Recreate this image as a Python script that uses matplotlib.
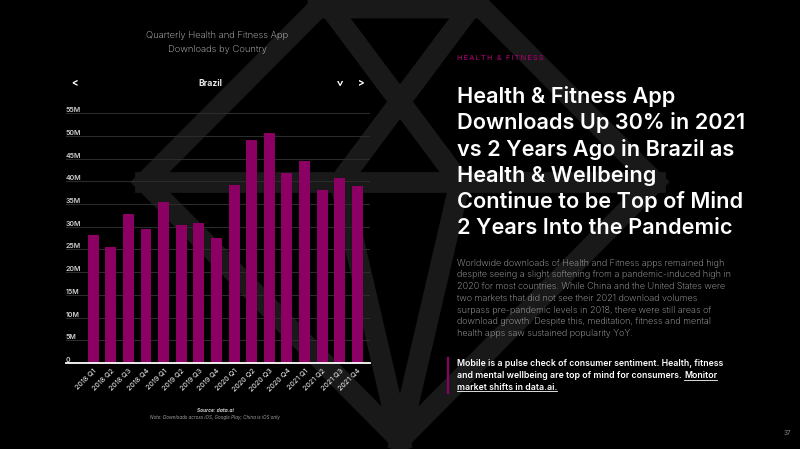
import matplotlib.pyplot as plt
import numpy as np

quarters = ['2018 Q1', '2018 Q2', '2018 Q3', '2018 Q4',
            '2019 Q1', '2019 Q2', '2019 Q3', '2019 Q4',
            '2020 Q1', '2020 Q2', '2020 Q3', '2020 Q4',
            '2021 Q1', '2021 Q2', '2021 Q3', '2021 Q4']
downloads_m = [28.2, 25.6, 32.8, 29.6, 35.5, 30.4, 30.9, 27.5,
               39.2, 49.0, 50.7, 41.9, 44.5, 38.1, 40.7, 38.9]
y_ticks = [0, 5, 10, 15, 20, 25, 30, 35, 40, 45, 50, 55]
y_tick_labels = ['0', '5M', '10M', '15M', '20M', '25M', '30M',
                 '35M', '40M', '45M', '50M', '55M']

headline = ['Health & Fitness App',
            'Downloads Up 30% in 2021',
            'vs 2 Years Ago in Brazil as',
            'Health & Wellbeing',
            'Continue to be Top of Mind',
            '2 Years Into the Pandemic']
body = ['Worldwide downloads of Health and Fitness apps remained high',
        'despite seeing a slight softening from a pandemic-induced high in',
        '2020 for most countries. While China and the United States were',
        'two markets that did not see their 2021 download volumes',
        'surpass pre-pandemic levels in 2018, there were still areas of',
        'download growth. Despite this, meditation, fitness and mental',
        'health apps saw sustained popularity YoY.']

W, H = 800, 449
MAGENTA = '#8b0062'
FONT = ['Inter', 'DejaVu Sans']

fig = plt.figure(figsize=(W / 100, H / 100), dpi=100, facecolor='black')


def fx(x):
    return x / W


def fy(y):
    return 1 - y / H


# background gem logo
bg = fig.add_axes([0, 0, 1, 1])
bg.set_xlim(0, W)
bg.set_ylim(H, 0)
bg.axis('off')
gem_col = '#191919'
lw = 15
bg.plot([318, 482, 655, 400, 145, 318], [8, 8, 182, 440, 182, 8], color=gem_col, lw=lw, solid_joinstyle='miter')
bg.plot([145, 655], [182, 182], color=gem_col, lw=lw)
bg.plot([330, 460], [8, 182], color=gem_col, lw=lw)
bg.plot([470, 340], [8, 182], color=gem_col, lw=lw)
bg.plot([460, 400], [182, 440], color=gem_col, lw=lw)
bg.plot([340, 400], [182, 440], color=gem_col, lw=lw)

# bar chart
ax = fig.add_axes([fx(66), fy(363), (370 - 66) / W, (363 - 105) / H])
ax.set_facecolor('none')
x = np.arange(len(quarters))
ax.bar(x, downloads_m, width=0.62, color=MAGENTA, zorder=2)
ax.set_xlim(-1.545, 15.72)
ax.set_ylim(0, 56.8)
ax.set_yticks(y_ticks, y_tick_labels)
ax.tick_params(axis='y', length=0, pad=0, labelsize=5, labelcolor='#d0d0d0')
for lbl in ax.get_yticklabels():
    lbl.set_ha('left')
    lbl.set_va('bottom')
    lbl.set_fontfamily(FONT)
    lbl.set_fontweight('semibold')
ax.set_xticks(x, quarters, rotation=45, ha='right', rotation_mode='anchor')
ax.tick_params(axis='x', length=0, pad=3, labelsize=5.2, labelcolor='white')
for lbl in ax.get_xticklabels():
    lbl.set_fontfamily(FONT)
ax.yaxis.grid(True, color='#2b2b2b', lw=0.8)
ax.set_axisbelow(True)
for s in ['top', 'right', 'left']:
    ax.spines[s].set_visible(False)
ax.spines['bottom'].set_color('white')
ax.spines['bottom'].set_linewidth(1.3)
ax.spines['bottom'].set_zorder(3)

# chart header
fig.text(fx(217), fy(36), 'Quarterly Health and Fitness App', color='#cfcfcf',
         fontsize=6.8, family=FONT, weight='light', ha='center', va='center')
fig.text(fx(217), fy(50), 'Downloads by Country', color='#cfcfcf',
         fontsize=6.8, family=FONT, weight='light', ha='center', va='center')
fig.text(fx(210), fy(83), 'Brazil', color='#e8e8e8', fontsize=6.2,
         family=FONT, weight='bold', ha='center', va='center')
fig.text(fx(74), fy(83), '<', color='white', fontsize=7, family=FONT,
         weight='bold', ha='center', va='center')
fig.text(fx(361), fy(83), '>', color='white', fontsize=7, family=FONT,
         weight='bold', ha='center', va='center')
fig.text(fx(338), fy(83), '>', color='white', fontsize=7, family=FONT,
         weight='bold', ha='center', va='center', rotation=-90)

fig.text(fx(215), fy(410), 'Source: data.ai', color='#d0d0d0', fontsize=3.5,
         family=FONT, weight='bold', style='italic', ha='center', va='center')
fig.text(fx(215), fy(417), 'Note: Downloads across iOS, Google Play; China is iOS only',
         color='#a0a0a0', fontsize=3.3, family=FONT, style='italic',
         ha='center', va='center')

# right side text
fig.text(fx(457), fy(58), '\u2009'.join('HEALTH & FITNESS'), color='#a3006f',
         fontsize=5.2, family=FONT, weight='medium', ha='left', va='center')

for i, line in enumerate(headline):
    fig.text(fx(457), fy(103.3 + i * 26.1), line, color='white', fontsize=15.6,
             family=FONT, weight='semibold', ha='left', va='baseline')

for i, line in enumerate(body):
    fig.text(fx(457), fy(265.7 + i * 11.73), line, color='#b4b4b4', fontsize=6.5,
             family=FONT, weight='light', ha='left', va='baseline')

FS_C = 6.3
callout_y = [366.3, 378.0, 389.7]
c1 = fig.text(fx(457), fy(callout_y[0]),
              'Mobile is a pulse check of consumer sentiment. Health, fitness',
              color='white', fontsize=FS_C, family=FONT, weight='semibold',
              ha='left', va='baseline')
c2 = fig.text(fx(457), fy(callout_y[1]),
              'and mental wellbeing are top of mind for consumers. ',
              color='white', fontsize=FS_C, family=FONT, weight='semibold',
              ha='left', va='baseline')
c3 = fig.text(fx(457), fy(callout_y[2]), 'market shifts in data.ai.',
              color='white', fontsize=FS_C, family=FONT, weight='semibold',
              ha='left', va='baseline')
fig.add_artist(plt.Line2D([fx(448), fx(448)], [fy(358), fy(393)],
                          color=MAGENTA, lw=1.6))

fig.canvas.draw()
r = fig.canvas.get_renderer()
bb2 = c2.get_window_extent(r)
c4 = fig.text(bb2.x1 / W, fy(callout_y[1]), 'Monitor', color='white',
              fontsize=FS_C, family=FONT, weight='semibold', ha='left', va='baseline')
fig.canvas.draw()
for t, yy in [(c4, callout_y[1]), (c3, callout_y[2])]:
    bb = t.get_window_extent(r)
    fig.add_artist(plt.Line2D([bb.x0 / W, bb.x1 / W], [fy(yy + 1.5)] * 2,
                              color='white', lw=0.6))

fig.text(fx(787), fy(433), '37', color='#8a8a8a', fontsize=4.5, family=FONT,
         ha='center', va='center')

fig.savefig('out.png', dpi=100, facecolor='black')
